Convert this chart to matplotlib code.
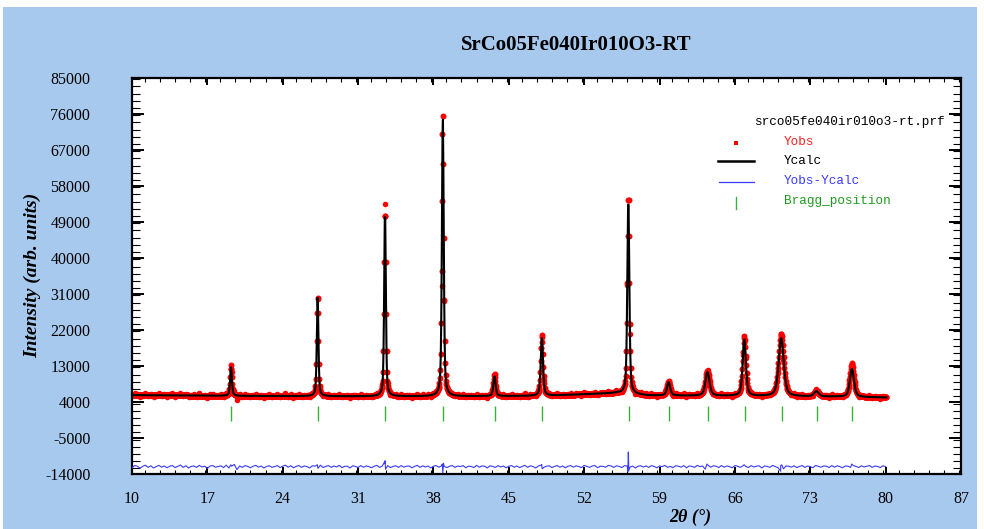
import numpy as np
import matplotlib
matplotlib.use("Agg")
import matplotlib.pyplot as plt
from matplotlib.lines import Line2D
from matplotlib.ticker import MultipleLocator

plt.rcParams["axes.unicode_minus"] = False

# ---------------- data ----------------
title = "SrCo05Fe040Ir010O3-RT"
prf_name = "srco05fe040ir010o3-rt.prf"

# peak positions (2theta, deg), heights above background, FWHM (deg)
peak_pos = [19.20, 27.24, 33.50, 38.87, 43.67, 48.07, 56.10, 59.84, 63.45, 66.87, 70.30, 73.57, 76.87]
calc_height = [7100, 24600, 46600, 69600, 4900, 14500, 48600, 3300, 5900, 14100, 14500, 1300, 7000]
obs_height = [7600, 24400, 46800, 70600, 5500, 15300, 49800, 3600, 6100, 14900, 15600, 1400, 8400]
peak_fwhm = [0.20, 0.18, 0.18, 0.20, 0.25, 0.25, 0.22, 0.35, 0.45, 0.35, 0.55, 0.50, 0.45]

bragg_pos = [19.23, 27.28, 33.51, 38.90, 43.70, 48.07, 56.12, 59.84, 63.47, 66.90, 70.34, 73.60, 76.88]

# background points (2theta, counts)
bg_x = [10.0, 20.0, 30.0, 40.0, 48.0, 52.0, 55.0, 58.0, 65.0, 75.0, 80.1]
bg_y = [5700, 5500, 5400, 5400, 5500, 5900, 6200, 5600, 5500, 5300, 5100]

# difference Yobs-Ycalc, every 0.25 deg from 10 to 80
diff_step_start, diff_step = 10.0, 0.25
diff_vals = [
    -200, 300, 150, -350, 100, 400, -150, 250, -300, 50, 350, -100, 200, -250, 150, 300, -200, 100, 450, -150,
    250, -300, 100, 200, -150, 350, -50, 150, -400, 200, 300, -100, 50, 250, -200, 400, -300, 150, 600, -700,
    200, -150, 300, 100, -250, 150, 350, -100, 200, -300, 100, 250, -150, 50, 300, -200, 150, 400, -100, 250,
    -250, 100, 300, -150, 200, 50, -300, 250, 150, -100, 400, -200, 100, 300, -150, 200, -50, 350, -200, 100,
    150, -300, 250, 100, -200, 300, -100, 200, 50, -250, 150, 350, -150, 200, 800, 300, -200, 100, 250, -150,
    300, -100, 150, 200, -250, 100, 350, -150, 250, -50, 200, -300, 150, 300, -100, 250, 100, -200, 150, 300,
    -150, 200, 50, 300, -250, 150, 100, -200, 350, -100, 200, 150, -300, 250, 100, -150, 300, -50, 200, -250,
    150, 300, -100, 200, -200, 100, 350, -150, 250, 50, -300, 200, 400, -150, 150, 250, -200, 100, 300, -100,
    200, -250, 150, 300, -100, 250, 50, -200, 350, 100, -150, 200, 300, -250, 150, 100, -100, 350, 200, -150,
    250, 100, -200, 300, 150, -100, 200, -300, 150, 250, -50, 200, -150, 300, 100, -250, 200, 50, 350, -150,
    100, -200, 250, 150, -100, 300, -250, 200, 100, -150, 350, 50, 200, -600, 400, -100, 250, 150, -200, 300,
    -100, 200, 50, -250, 300, 150, -150, 250, 100, -200, 300, -50, 150, 250, -300, 200, 100, -150, 350, 50,
    -200, 300, -500, 200, 150, -100, 250, -200, 100, 300, -150, 200, 50, -250, 350, 100, -100, 200, 150, -200,
    300, -100, 250, 50, -250, 200, 150, -150, 300, 100, -200, 250, -50, 150, 300, -150, 200, 100, -200, 250,
    50,
]
# larger residual features at the strong reflections
spike_x = [19.18, 27.22, 27.27, 33.45, 33.50, 33.55, 38.82, 38.87, 38.93, 48.05, 48.10,
           56.05, 56.10, 56.15, 63.40, 66.85, 70.25, 70.35, 76.85]
spike_y = [500, 500, -400, 1200, 1500, -600, 700, -1500, 900, 600, -500,
           -1300, 3700, -900, 700, 500, -1100, 500, 700]

diff_offset = -12200

x_ticks = list(range(10, 88, 7))
y_ticks = list(range(85000, -14001, -9000))

# ---------------- model ----------------
def profile(x, heights):
    x = np.asarray(x, dtype=float)
    y = np.interp(x, bg_x, bg_y).astype(float)
    for p, h, w in zip(peak_pos, heights, peak_fwhm):
        t = ((x - p) / w) ** 2
        y += h * (0.5 / (1 + 4 * t) + 0.5 * np.exp(-4 * np.log(2) * t))
    return y

x_fine = np.arange(10.0, 80.1001, 0.04)
y_calc = profile(x_fine, calc_height)
y_obs_fine = profile(x_fine, obs_height)

dx = diff_step_start + diff_step * np.arange(len(diff_vals))
dv = np.asarray(diff_vals, dtype=float)
y_obs_pts = profile(dx, calc_height) + dv * 1.6

all_x = np.concatenate([dx, spike_x])
all_y = np.concatenate([dv, spike_y])
order = np.argsort(all_x)
diff_x = all_x[order]
diff_y = all_y[order]

# ---------------- figure ----------------
W, H = 984, 529
bg_blue = "#a7c9ee"
fig = plt.figure(figsize=(W / 100, H / 100), dpi=100, facecolor="white")
fig.patches.append(plt.Rectangle((3 / W, 0), (977 - 3) / W, (H - 7) / H,
                                 transform=fig.transFigure, facecolor=bg_blue,
                                 edgecolor="none", zorder=-10))

ax = fig.add_axes([132 / W, 1 - 474 / H, (961 - 132) / W, (474 - 77.5) / H])
ax.set_facecolor("white")

ax.plot(x_fine, y_obs_fine, "o", color="#ff0000", ms=4.3, mew=0, zorder=2)
ax.plot(dx, y_obs_pts, "o", color="#ff0000", ms=4.0, mew=0, zorder=2)
ax.plot(x_fine, y_calc, "-", color="black", lw=1.5, zorder=3)
ax.plot(diff_x, diff_y + diff_offset, "-", color="#3a3aff", lw=0.8, zorder=3)
ax.vlines(bragg_pos, -700, 3000, color="#3cae3c", lw=1.0, zorder=3)

ax.set_xlim(10, 87)
ax.set_ylim(-14000, 85000)
ax.set_xticks(x_ticks)
ax.set_yticks(y_ticks)
ax.xaxis.set_minor_locator(MultipleLocator(1.4))
ax.yaxis.set_minor_locator(MultipleLocator(1800))

serif = "Liberation Serif"
ax.tick_params(axis="both", which="both", direction="in", top=True, right=True, colors="black")
ax.tick_params(axis="x", which="major", length=4.7, width=1.4, pad=12)
ax.tick_params(axis="x", which="minor", length=2.9, width=0.8)
ax.tick_params(axis="y", which="major", length=8.6, width=1.4, pad=30)
ax.tick_params(axis="y", which="minor", length=5.8, width=0.8)
for lab in ax.get_xticklabels() + ax.get_yticklabels():
    lab.set_fontfamily(serif)
    lab.set_fontsize(11.5)
for s in ax.spines.values():
    s.set_linewidth(1.6)

ax.set_ylabel("Intensity (arb. units)", fontfamily=serif, fontsize=14,
              fontweight="bold", fontstyle="italic", labelpad=3)
fig.text(690 / W, 1 - 517 / H, "2θ (°)", fontfamily=serif, fontsize=13,
         fontweight="bold", fontstyle="italic", ha="center", va="center")
fig.text(576 / W, 1 - 45 / H, title, fontfamily=serif, fontsize=15,
         fontweight="bold", ha="center", va="center")

# legend (FullProf style)
mono = "Liberation Mono"
fig.text(754 / W, 1 - 122 / H, prf_name, fontfamily=mono, fontsize=9.2,
         color="black", ha="left", va="center")
entries = [("Yobs", "#ff2020", 142), ("Ycalc", "black", 161),
           ("Yobs-Ycalc", "#3a3aff", 181), ("Bragg_position", "#1f9a1f", 201)]
for txt, col, yy in entries:
    fig.text(784 / W, 1 - yy / H, txt, fontfamily=mono, fontsize=9.2,
             color=col, ha="left", va="center")
fig.add_artist(Line2D([736 / W], [1 - 143 / H], marker="s", ms=3, mew=0,
                      color="#ff0000", transform=fig.transFigure))
fig.add_artist(Line2D([718 / W, 754 / W], [1 - 161 / H] * 2, lw=1.8,
                      color="black", transform=fig.transFigure))
fig.add_artist(Line2D([719 / W, 754 / W], [1 - 182 / H] * 2, lw=0.9,
                      color="#3a3aff", transform=fig.transFigure))
fig.add_artist(Line2D([736 / W, 736 / W], [1 - 197 / H, 1 - 209 / H], lw=1.0,
                      color="#3cae3c", transform=fig.transFigure))

fig.savefig("out.png", dpi=100, facecolor=fig.get_facecolor())
